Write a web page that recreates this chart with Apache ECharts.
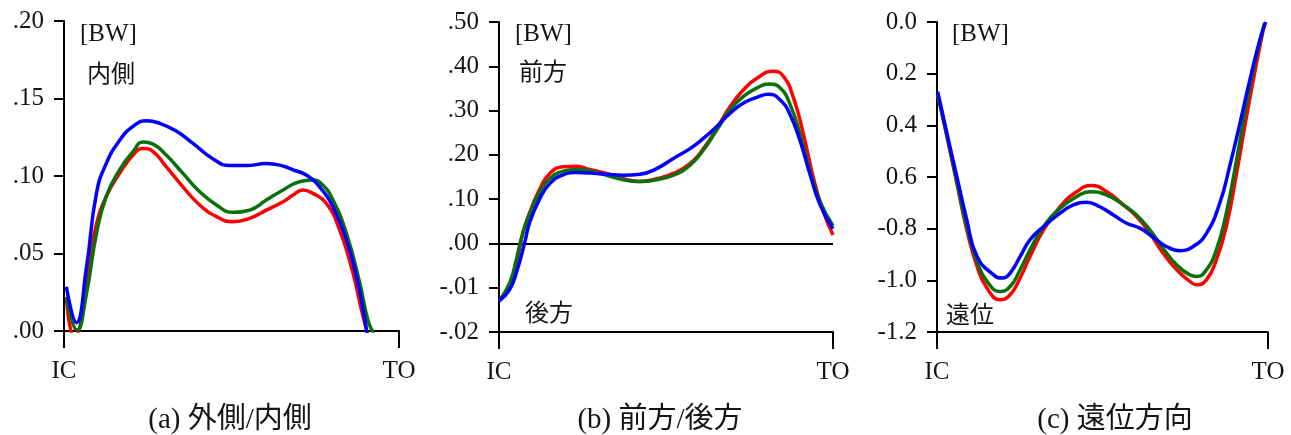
<!DOCTYPE html>
<html>
<head>
<meta charset="utf-8">
<script src="https://cdn.jsdelivr.net/npm/echarts@6/dist/echarts.min.js"></script>
<style>
html,body{margin:0;padding:0;background:#fff;}
#chart{width:1291px;height:435px;}
</style>
</head>
<body>
<div id="chart"></div>
<script>
// ---------- Data (x = % of stance, IC = 0, TO = 100) ----------
// (a) lateral / medial [BW]
const aRedX   = [0.7, 3.2, 5.2, 7.2, 9.7, 12.6, 16.6, 20.6, 23.6, 26.6, 30.5, 35.5, 40.5, 45.5, 50.4, 55.4, 60.4, 65.4, 68.4, 71.3, 74.3, 78.3, 82.3, 86.3, 88.8, 90.7];
const aRedY   = [0.022, -0.0047, 0.007, 0.041, 0.069, 0.0867, 0.1017, 0.1135, 0.1178, 0.1157, 0.106, 0.093, 0.0813, 0.0738, 0.0705, 0.0727, 0.078, 0.0834, 0.0877, 0.091, 0.0888, 0.0824, 0.065, 0.037, 0.0135, -0.0026];
const aGreenX = [0.7, 3.9, 6.7, 9.7, 12.6, 16.6, 20.6, 23.6, 26.6, 30.5, 35.5, 40.5, 45.5, 50.4, 55.4, 60.4, 65.4, 70.3, 74.3, 77.3, 80.3, 84.3, 88.3, 90.7, 92.4];
const aGreenY = [0.022, 0.0006, 0.024, 0.063, 0.0867, 0.104, 0.1157, 0.122, 0.1206, 0.1135, 0.1017, 0.0899, 0.0813, 0.0766, 0.078, 0.0845, 0.091, 0.0963, 0.0974, 0.094, 0.0845, 0.063, 0.0308, 0.0071, -0.0015];
const aBlueX  = [0.7, 3.7, 6.7, 9.7, 12.6, 16.6, 20.6, 24.6, 28.6, 33.5, 38.5, 44.5, 49.5, 54.4, 60.4, 64.4, 68.4, 72.3, 76.3, 80.3, 84.3, 87.3, 89.3, 90.5];
const aBlueY  = [0.0286, 0.0054, 0.041, 0.089, 0.108, 0.123, 0.132, 0.1357, 0.134, 0.129, 0.121, 0.111, 0.1067, 0.1067, 0.108, 0.107, 0.104, 0.1006, 0.093, 0.080, 0.0587, 0.035, 0.0135, -0.002];
const aTickLabels = ['.00', '.05', '.10', '.15', '.20'];

// (b) anterior / posterior [BW]
const bRedX   = [0, 3.2, 5.2, 7.2, 9.2, 12.2, 15.2, 19.2, 23.2, 27.2, 32.2, 37.2, 42.2, 47.2, 52.2, 57.2, 61.2, 65.2, 69.2, 73.2, 77.2, 82.2, 85.2, 88.2, 91.2, 94.2, 97.2, 100];
const bRedY   = [-0.13, -0.096, -0.043, 0.025, 0.070, 0.123, 0.158, 0.173, 0.174, 0.167, 0.158, 0.146, 0.140, 0.146, 0.158, 0.180, 0.214, 0.260, 0.309, 0.347, 0.373, 0.389, 0.377, 0.328, 0.245, 0.146, 0.070, 0.019];
const bGreenX = [0, 3.2, 5.2, 7.2, 9.2, 12.2, 15.2, 19.2, 23.2, 27.2, 32.2, 37.2, 42.2, 47.2, 52.2, 57.2, 61.2, 65.2, 69.2, 73.2, 77.2, 80.7, 84.2, 87.2, 90.2, 93.2, 96.2, 100];
const bGreenY = [-0.13, -0.089, -0.036, 0.025, 0.067, 0.116, 0.146, 0.163, 0.167, 0.164, 0.154, 0.144, 0.140, 0.144, 0.154, 0.177, 0.211, 0.256, 0.302, 0.332, 0.351, 0.360, 0.351, 0.313, 0.245, 0.161, 0.093, 0.040];
const bBlueX  = [0, 3.2, 5.2, 7.7, 9.2, 12.2, 15.2, 19.2, 23.2, 27.2, 32.2, 37.2, 42.2, 47.2, 52.2, 57.2, 61.2, 65.2, 69.2, 73.2, 77.2, 80.7, 84.2, 87.2, 90.2, 93.2, 96.2, 100];
const bBlueY  = [-0.13, -0.104, -0.066, 0.002, 0.048, 0.101, 0.135, 0.155, 0.160, 0.159, 0.156, 0.154, 0.156, 0.169, 0.192, 0.214, 0.237, 0.264, 0.294, 0.317, 0.330, 0.337, 0.324, 0.290, 0.230, 0.154, 0.086, 0.033];
const bTickLabels = ['-.02', '-.01', '.00', '.10', '.20', '.30', '.40', '.50'];

// (c) distal [BW]
const cRedX   = [0.2, 3.0, 6.0, 9.0, 12.1, 15.1, 19.1, 22.1, 25.1, 28.1, 32.2, 37.2, 42.2, 46.7, 51.3, 56.3, 60.3, 64.3, 68.3, 72.4, 76.4, 78.4, 81.4, 84.4, 87.4, 90.5, 93.5, 96.5, 99.0];
const cRedY   = [-0.28, -0.444, -0.625, -0.805, -0.946, -1.030, -1.075, -1.056, -0.991, -0.908, -0.805, -0.715, -0.657, -0.633, -0.657, -0.708, -0.753, -0.818, -0.895, -0.959, -1.004, -1.017, -0.998, -0.921, -0.792, -0.586, -0.367, -0.161, -0.004];
const cGreenX = [0.2, 3.0, 6.0, 9.0, 12.1, 15.1, 19.1, 22.1, 25.1, 28.1, 32.2, 37.2, 42.2, 46.2, 51.3, 56.3, 60.3, 64.3, 68.3, 72.4, 76.4, 78.4, 81.4, 84.4, 87.4, 90.5, 93.5, 96.5, 99.0];
const cGreenY = [-0.28, -0.438, -0.618, -0.792, -0.927, -1.004, -1.043, -1.024, -0.959, -0.882, -0.792, -0.721, -0.676, -0.657, -0.670, -0.708, -0.747, -0.805, -0.876, -0.940, -0.979, -0.985, -0.959, -0.882, -0.740, -0.534, -0.315, -0.129, -0.004];
const cBlueX  = [0.2, 3.0, 6.0, 9.0, 12.1, 17.1, 19.6, 22.1, 25.1, 28.1, 32.2, 37.2, 41.2, 45.2, 49.2, 53.3, 57.3, 61.3, 65.3, 69.3, 73.4, 77.4, 81.4, 85.4, 88.4, 91.5, 94.5, 97.5, 99.3];
const cBlueY  = [-0.270, -0.431, -0.599, -0.766, -0.908, -0.979, -0.991, -0.972, -0.908, -0.843, -0.792, -0.740, -0.708, -0.698, -0.715, -0.747, -0.779, -0.798, -0.833, -0.869, -0.885, -0.869, -0.818, -0.702, -0.560, -0.393, -0.225, -0.071, 0.0];
const cTickLabels = ['-1.2', '-1.0', '-0.8', '0.6', '0.4', '0.2', '0.0'];

const xLabels = ['IC', 'TO'];
const panelTitles = ['(a) 外側/内側', '(b) 前方/後方', '(c) 遠位方向'];
const unitLabel = '[BW]';
const sideLabels = ['内側', '前方', '後方', '遠位'];

// ---------- Styling ----------
const SERIF = '"Liberation Serif", "Times New Roman", serif';
const MIXED = '"Liberation Serif", "Noto Sans CJK JP", serif';
const CJK = '"Noto Sans CJK JP", sans-serif';
const RED = '#ff0000', GREEN = '#0a700a', BLUE = '#0000ff';
const INK = '#151515';

const zip = (xs, ys) => xs.map((x, i) => [x, ys[i]]);

const grids = [
  {left: 64, top: 21, width: 335, height: 310},
  {left: 499, top: 22, width: 334, height: 310},
  {left: 937, top: 22, width: 331, height: 310}
];

function xAxisFor(i) {
  return {
    type: 'value', gridIndex: i, min: 0, max: 100, interval: 100,
    axisLine: {onZero: false, lineStyle: {color: '#000', width: 2}},
    axisTick: {length: 17, lineStyle: {color: '#000', width: 2}},
    splitLine: {show: false},
    axisLabel: {
      margin: 28, color: INK, fontFamily: SERIF, fontSize: 25,
      formatter: v => (v === 0 ? xLabels[0] : xLabels[1])
    }
  };
}
function yAxisFor(i, min, max, interval, labels) {
  return {
    type: 'value', gridIndex: i, min: min, max: max, interval: interval,
    axisLine: {show: true, onZero: false, lineStyle: {color: '#000', width: 2}},
    axisTick: {show: true, length: 10, lineStyle: {color: '#000', width: 2}},
    splitLine: {show: false},
    axisLabel: {
      margin: 20, color: INK, fontFamily: SERIF, fontSize: 25,
      formatter: v => labels[Math.round((v - min) / interval)]
    }
  };
}
function line(i, data, color, extra) {
  return Object.assign({
    type: 'line', xAxisIndex: i, yAxisIndex: i, data: data,
    smooth: 0.5, showSymbol: false, symbol: 'none',
    lineStyle: {color: color, width: 3.5}, itemStyle: {color: color},
    animation: false
  }, extra || {});
}

function txt(x, y, text, size, font, align) {
  return {
    type: 'text', x: x, y: y, silent: true,
    style: {text: text, fill: INK, font: size + 'px ' + font,
            align: align || 'left', verticalAlign: 'middle'}
  };
}

const option = {
  animation: false,
  backgroundColor: '#fff',
  grid: grids,
  xAxis: [xAxisFor(0), xAxisFor(1), xAxisFor(2)],
  yAxis: [
    yAxisFor(0, 0, 0.2, 0.05, aTickLabels),
    yAxisFor(1, -0.2, 0.5, 0.1, bTickLabels),
    yAxisFor(2, -1.2, 0, 0.2, cTickLabels)
  ],
  series: [
    line(0, zip(aRedX, aRedY), RED),
    line(0, zip(aGreenX, aGreenY), GREEN),
    line(0, zip(aBlueX, aBlueY), BLUE),
    line(1, zip(bRedX, bRedY), RED, {
      markLine: {
        silent: true, symbol: 'none', label: {show: false}, z: 1,
        lineStyle: {color: '#000', width: 2, type: 'solid'},
        data: [{yAxis: 0}]
      }
    }),
    line(1, zip(bGreenX, bGreenY), GREEN),
    line(1, zip(bBlueX, bBlueY), BLUE),
    line(2, zip(cRedX, cRedY), RED),
    line(2, zip(cGreenX, cGreenY), GREEN),
    line(2, zip(cBlueX, cBlueY), BLUE)
  ],
  graphic: [
    txt(80, 34, unitLabel, 25, SERIF),
    txt(515, 34, unitLabel, 25, SERIF),
    txt(952, 34, unitLabel, 25, SERIF),
    txt(87, 73, sideLabels[0], 24, CJK),
    txt(519, 71, sideLabels[1], 24, CJK),
    txt(525, 312, sideLabels[2], 24, CJK),
    txt(946, 314, sideLabels[3], 24, CJK),
    txt(230, 420, panelTitles[0], 29, MIXED, 'center'),
    txt(660, 420, panelTitles[1], 29, MIXED, 'center'),
    txt(1115, 420, panelTitles[2], 29, MIXED, 'center')
  ]
};

const chart = echarts.init(document.getElementById('chart'), null, {renderer: 'canvas'});
chart.setOption(option);
</script>
</body>
</html>
